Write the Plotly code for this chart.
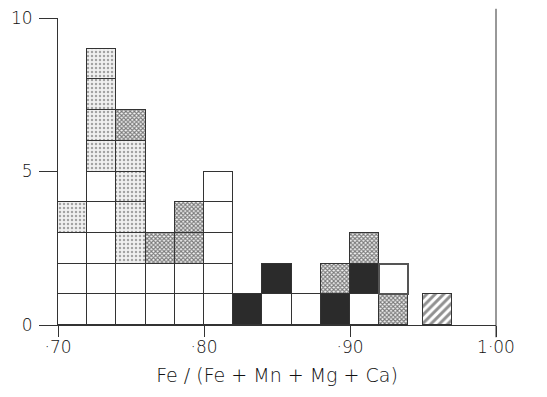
import plotly.graph_objects as go

# bin centres (width 0.02); the hatched specimen sits between bins
bin_centres = [0.71, 0.73, 0.75, 0.77, 0.79, 0.81, 0.83, 0.85, 0.87, 0.89, 0.91, 0.93, 0.96]
white_counts   = [3, 5, 2, 2, 2, 5, 0, 1, 1, 0, 1, 0, 0]
dotted_counts  = [1, 4, 4, 0, 0, 0, 0, 0, 0, 0, 0, 0, 0]
black_counts   = [0, 0, 0, 0, 0, 0, 1, 1, 0, 1, 1, 0, 0]
cross_counts   = [0, 0, 1, 1, 2, 0, 0, 0, 0, 1, 1, 1, 0]
fringed_counts = [0, 0, 0, 0, 0, 0, 0, 0, 0, 0, 0, 1, 0]
hatched_counts = [0, 0, 0, 0, 0, 0, 0, 0, 0, 0, 0, 0, 1]

x_tickvals = [0.70, 0.80, 0.90, 1.00]
x_ticktext = ["·70", "·80", "·90", "1·00"]
y_tickvals = [0, 5, 10]
x_title = "Fe / (Fe + Mn + Mg + Ca)"

INK = "#333333"
TXT = "#111111"
FONT = "DejaVu Sans"

styles = [
    (white_counts, dict(color="white"), dict(color=INK, width=1)),
    (dotted_counts, dict(color="#f2f2f2",
                         pattern=dict(shape=".", fgcolor="#555555", bgcolor="#f0f0f0",
                                      size=4, solidity=0.3)), dict(color=INK, width=1)),
    (black_counts, dict(color="#2b2b2b"), dict(color=INK, width=1)),
    (cross_counts, dict(color="white",
                        pattern=dict(shape="x", fgcolor="#000000", bgcolor="#f4f4f4",
                                     size=3, solidity=0.6)), dict(color=INK, width=1)),
    (fringed_counts, dict(color="white"), dict(color="#555555", width=2.5)),
    (hatched_counts, dict(color="white",
                          pattern=dict(shape="/", fgcolor="#222222", bgcolor="white",
                                       size=6, solidity=0.5)), dict(color=INK, width=1)),
]

fig = go.Figure()
for counts, marker, line in styles:
    for k in range(max(counts)):
        ys = [1 if c > k else None for c in counts]
        m = dict(marker)
        m["line"] = line
        fig.add_trace(go.Bar(x=bin_centres, y=ys, width=0.02, marker=m,
                             showlegend=False, hoverinfo="skip"))

fig.update_layout(
    width=547, height=397,
    margin=dict(l=58, r=51, t=18, b=72, autoexpand=False),
    barmode="stack", bargap=0,
    plot_bgcolor="white", paper_bgcolor="white",
    font=dict(family=FONT, color=TXT, size=17, weight=300),
    shapes=[dict(type="line", xref="paper", yref="paper", x0=1, x1=1, y0=-0.04, y1=1.03,
                 line=dict(color=INK, width=1))],
)
fig.update_xaxes(range=[0.70, 1.00], showline=True, linecolor=INK, linewidth=1,
                 automargin=False,
                 ticks="outside", ticklen=11, tickcolor=INK, tickwidth=1,
                 ticklabelstandoff=-4,
                 tickvals=x_tickvals, ticktext=x_ticktext, showgrid=False, zeroline=False,
                 tickfont=dict(size=17, color=TXT, weight=300),
                 title=dict(text=x_title, font=dict(size=19, color=TXT, weight=300), standoff=12))
fig.update_yaxes(range=[0, 10], showline=True, linecolor=INK, linewidth=1,
                 automargin=False,
                 ticks="outside", ticklen=18, tickcolor=INK, tickwidth=1,
                 ticklabelstandoff=3,
                 tickvals=y_tickvals, showgrid=False, zeroline=False,
                 tickfont=dict(size=17, color=TXT, weight=300))

fig.write_html("out.html", config={"displayModeBar": False},
               post_script="document.body.style.margin='0';document.body.style.padding='0';")
